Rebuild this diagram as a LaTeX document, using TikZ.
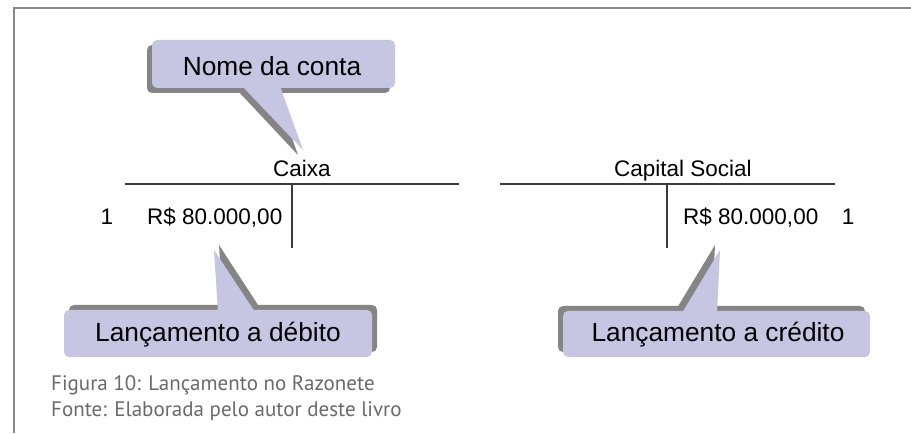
\documentclass[tikz,border=0pt]{standalone}
\usepackage{fontspec}
\setmainfont{Liberation Sans}
\newfontfamily\capfont{PT Sans}
\definecolor{calloutfill}{HTML}{C6C6E2}
\definecolor{shadowgray}{HTML}{858585}
\definecolor{framegray}{HTML}{8A8A8A}
\definecolor{capgray}{HTML}{6A6A6A}
\definecolor{linegray}{HTML}{3A3A3A}
\begin{document}
\begin{tikzpicture}[x=1pt,y=-1pt,
  lbl/.style={inner sep=0pt,anchor=base,font=\fontsize{22.5}{26}\selectfont},
  bigtxt/.style={inner sep=0pt,anchor=base,font=\fontsize{26.3}{30}\selectfont},
  captxt/.style={inner sep=0pt,anchor=base west,text=capgray,font=\capfont\fontsize{21}{24}\selectfont},
  tline/.style={draw=linegray,line width=1.1pt},
  shadowpart/.style={fill=shadowgray},
  bubble/.style={fill=calloutfill}]
\useasboundingbox (0,0) rectangle (911,435);
\fill[white] (0,0) rectangle (911,435);
% frame
\draw[framegray,line width=2.5pt] (14,433) -- (14,8) -- (911,8);

% shadows
\fill[shadowpart,rounded corners=5pt] (147,45) rectangle (390,93);
\fill[shadowpart] (237,90) -- (298,155) -- (275,90) -- cycle;
\fill[shadowpart,rounded corners=5pt] (69,305) rectangle (377,352);
\fill[shadowpart] (219,245) -- (260,308) -- (223,308) -- cycle;
\fill[shadowpart,rounded corners=5pt] (558,306) rectangle (865,352);
\fill[shadowpart] (715,245) -- (677,308) -- (712,308) -- cycle;

% bubbles
\fill[bubble,rounded corners=5pt] (152,40) rectangle (395,88);
\fill[bubble] (242,86) -- (303,150) -- (280,86) -- cycle;
\fill[bubble,rounded corners=5pt] (64,310) rectangle (372,357);
\fill[bubble] (214,250) -- (255,312) -- (218,312) -- cycle;
\fill[bubble,rounded corners=5pt] (563,311) rectangle (870,357);
\fill[bubble] (720,250) -- (682,313) -- (717,313) -- cycle;

% callout texts
\node[bigtxt] (nome) at (272,76) {Nome da conta};
\node[bigtxt] (deb) at (218,342) {Lançamento a débito};
\node[bigtxt] (cred) at (718,342) {Lançamento a crédito};

% T accounts
\node[lbl] (caixa) at (302,177) {Caixa};
\node[lbl] (capital) at (683,177) {Capital Social};
\coordinate (cxL) at (125,184);
\coordinate (cxR) at (459,184);
\coordinate (cxT) at (292,184);
\coordinate (cxB) at (292,248);
\coordinate (csL) at (500,184);
\coordinate (csR) at (835,184);
\coordinate (csT) at (667,184);
\coordinate (csB) at (667,248);
\draw[tline] (cxL) -- (cxR);
\draw[tline] (cxT) -- (cxB);
\draw[tline] (csL) -- (csR);
\draw[tline] (csT) -- (csB);

\node[lbl] (n1) at (107,225) {1};
\node[lbl,anchor=base west] (v1) at (147,225) {R\$ 80.000,00};
\node[lbl,anchor=base west] (v2) at (683,225) {R\$ 80.000,00};
\node[lbl] (n2) at (848,225) {1};

% caption
\node[captxt] (fig) at (51,391) {Figura 10: Lançamento no Razonete};
\node[captxt] (fonte) at (51,417) {Fonte: Elaborada pelo autor deste livro};
\end{tikzpicture}
\end{document}
